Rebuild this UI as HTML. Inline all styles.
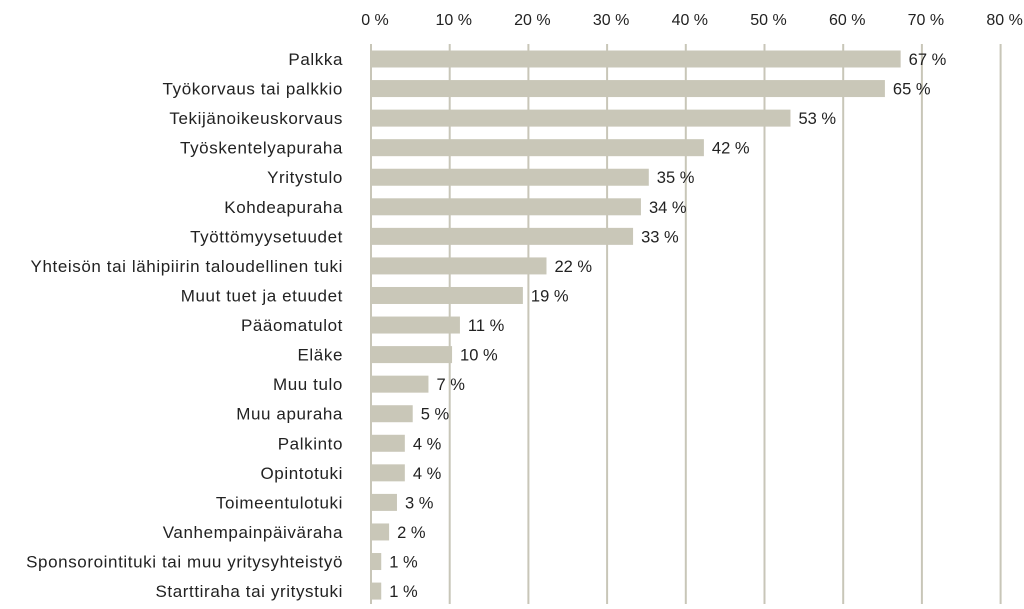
<!DOCTYPE html>
<html><head><meta charset="utf-8"><style>
body{margin:0;background:#fff;width:1024px;height:604px;overflow:hidden;font-family:"Liberation Sans",sans-serif;}
svg text{font-family:"Liberation Sans",sans-serif;fill:#222;}
</style></head><body>
<svg id="chart" width="1024" height="604" xmlns="http://www.w3.org/2000/svg"></svg>
<script>
const categories=["Palkka","Työkorvaus tai palkkio","Tekijänoikeuskorvaus","Työskentelyapuraha","Yritystulo","Kohdeapuraha","Työttömyysetuudet","Yhteisön tai lähipiirin taloudellinen tuki","Muut tuet ja etuudet","Pääomatulot","Eläke","Muu tulo","Muu apuraha","Palkinto","Opintotuki","Toimeentulotuki","Vanhempainpäiväraha","Sponsorointituki tai muu yritysyhteistyö","Starttiraha tai yritystuki"];
const values=[67,65,53,42,35,34,33,22,19,11,10,7,5,4,4,3,2,1,1];
const ticks=[0,10,20,30,40,50,60,70,80];
const NS="http://www.w3.org/2000/svg";
const svg=document.getElementById("chart");
const x0=371,pxPer=7.87;
function xs(v){return x0+v*pxPer;}
const yTop=59,step=29.56,barH=17;
function ys(i){return yTop+i*step;}
function mk(t,a){const e=document.createElementNS(NS,t);for(const k in a)e.setAttribute(k,a[k]);svg.appendChild(e);return e;}
ticks.forEach(t=>{
 const l=mk("line",{x1:xs(t),x2:xs(t),y1:44,y2:604,stroke:"#c8c6b8","stroke-width":2});
 
 
 const tx=mk("text",{x:xs(t)+4,y:25,"text-anchor":"middle","font-size":16});
 tx.textContent=t+" %";
 
 
});
categories.forEach((c,i)=>{
 const y=ys(i);
 const r=mk("rect",{x:x0,y:y-barH/2,width:Math.max(0,xs(values[i]+0.3)-x0),height:barH,fill:"#c9c7b8"});
 
 
 const lb=mk("text",{x:343,y:y+6,"text-anchor":"end","font-size":17,"letter-spacing":"0.6"});
 lb.textContent=c;
 
 
 const vl=mk("text",{x:xs(values[i]+0.3)+8,y:y+6,"font-size":16.5});
 vl.textContent=values[i]+" %";
 
 
});
</script>
</body></html>
